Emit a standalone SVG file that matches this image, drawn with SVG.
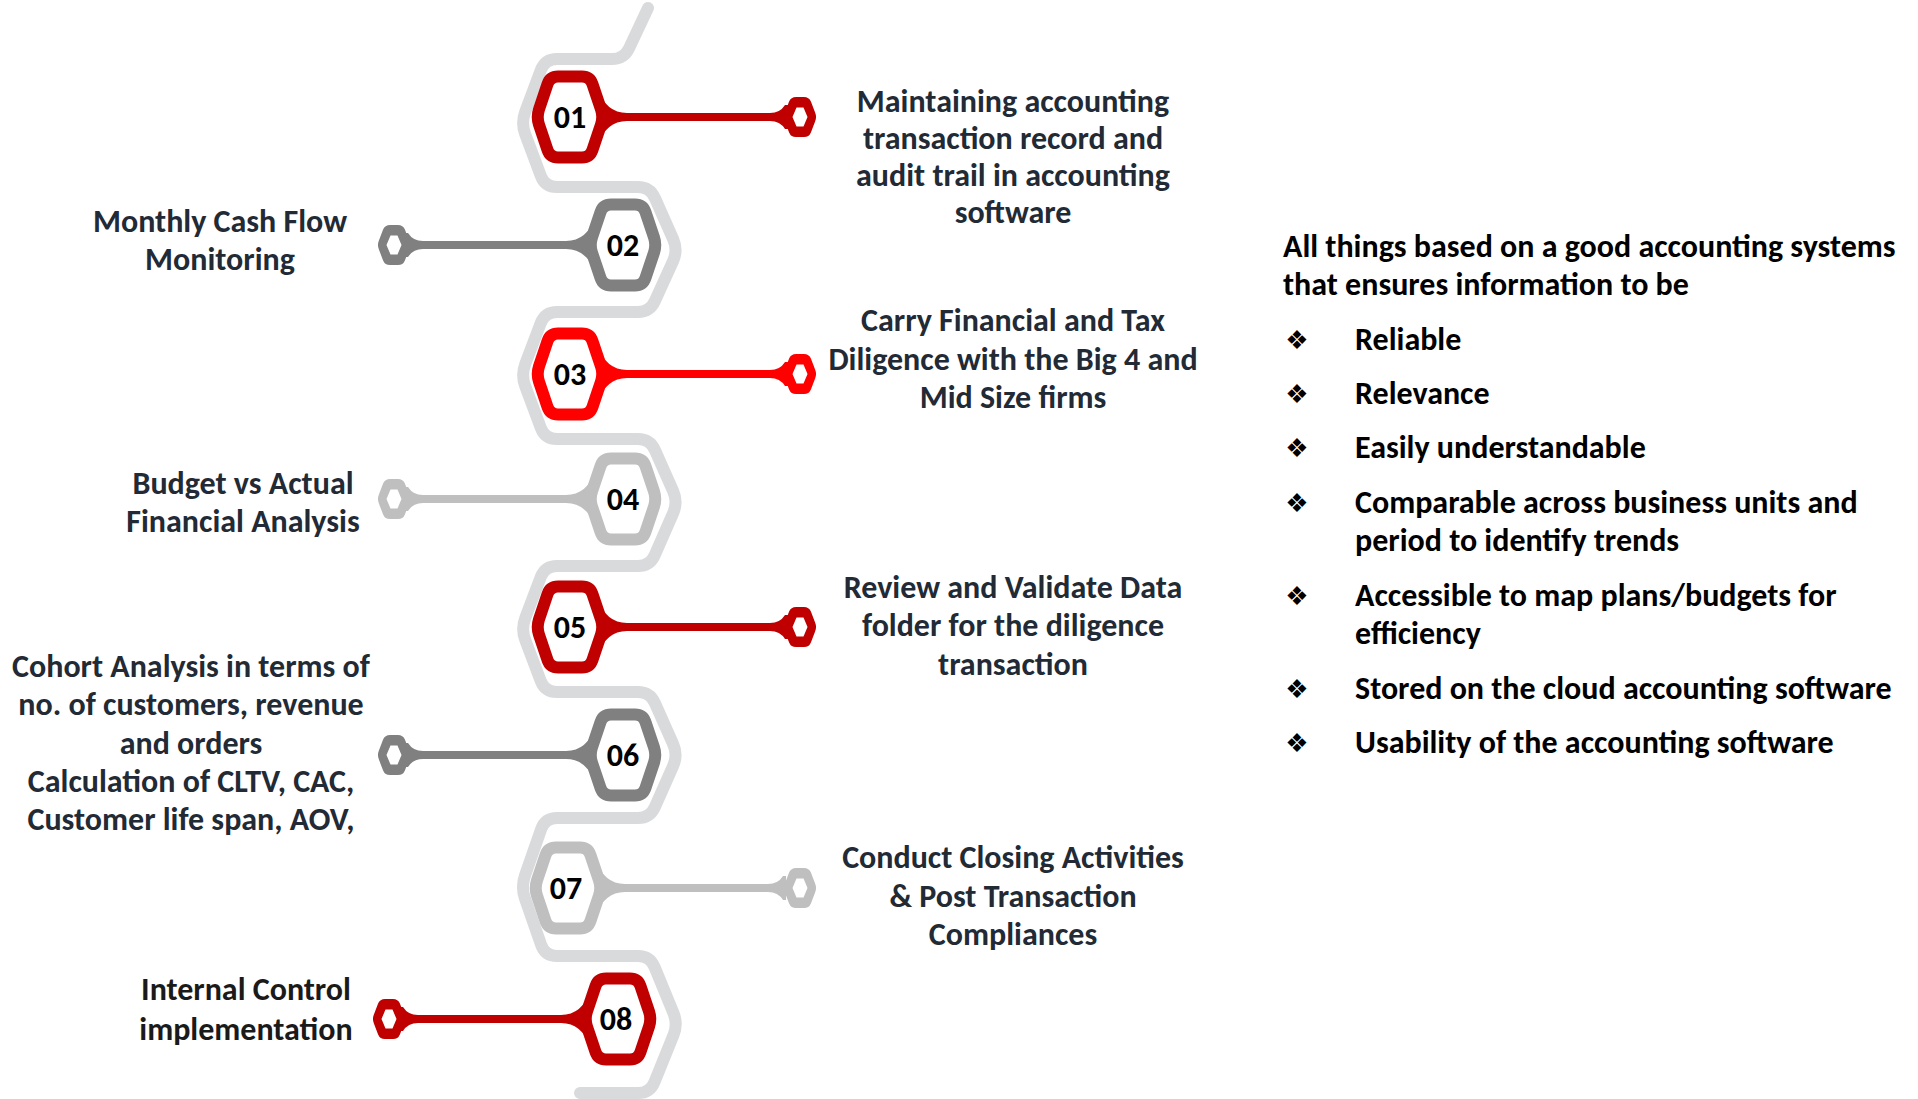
<svg xmlns="http://www.w3.org/2000/svg" xmlns:xlink="http://www.w3.org/1999/xlink" width="1918" height="1099" viewBox="0 0 1918 1099">
<style>
.lbl{font-family:Carlito,Lato,"Liberation Sans",sans-serif;font-weight:700;font-size:32px;fill:#222a35;text-anchor:middle}
.num{font-family:Carlito,Lato,"Liberation Sans",sans-serif;font-weight:700;font-size:32px;fill:#000;text-anchor:middle}
.rt{font-family:Carlito,Lato,"Liberation Sans",sans-serif;font-weight:700;font-size:32px;fill:#000}
.bul{font-family:"DejaVu Sans",sans-serif;font-size:26px;fill:#000;text-anchor:middle}
.hex{fill:#fff;stroke-width:12}
.snake{fill:none;stroke:#d9dadc;stroke-width:12;stroke-linecap:round;stroke-linejoin:round}
</style>
<defs>
<path id="hex" d="M -12,-40.5 L 12,-40.5 Q 20,-40.5 22.5,-32.9 L 31,-7.6 Q 33.5,0 31,7.6 L 22.5,32.9 Q 20,40.5 12,40.5 L -12,40.5 Q -20,40.5 -22.5,32.9 L -31,7.6 Q -33.5,0 -31,-7.6 L -22.5,-32.9 Q -20,-40.5 -12,-40.5 Z"/>
<path id="stem" d="M 27,-29 Q 36,-4 57,-4 L 200,-4 Q 210,-4 215,-12 L 218,-12 L 218,12 L 215,12 Q 210,4 200,4 L 57,4 Q 36,4 27,29 L 33.5,0 Z"/>
<path id="pin" fill-rule="evenodd" d="M -4,-20 L 4,-20 Q 9,-20 10.9,-15.4 L 15.1,-4.6 Q 17,0 15.1,4.6 L 10.9,15.4 Q 9,20 4,20 L -4,20 Q -9,20 -10.9,15.4 L -15.1,4.6 Q -17,0 -15.1,-4.6 L -10.9,-15.4 Q -9,-20 -4,-20 Z M -3.5,-9.5 L 3.5,-9.5 L 7.5,0 L 3.5,9.5 L -3.5,9.5 L -7.5,0 Z"/>
</defs>
<rect width="1918" height="1099" fill="#fff"/>
<g id="connectors">
<path class="snake" d="M 648,8 L 629.1,48.2 Q 624,59 612,59 L 557,59 Q 545,59 540.8,70.2 L 525.2,111.8 Q 521,123 525.2,134.2 L 540.8,175.8 Q 545,187 557,187 L 638,187 Q 650,187 654.9,198 L 673.1,239 Q 678,250 673.1,261 L 654.9,301.1 Q 650,312 638,312 L 557,312 Q 545,312 540.7,323.2 L 525.3,363.8 Q 521,375 525.2,386.2 L 540.8,427.8 Q 545,439 557,439 L 638,439 Q 650,439 654.9,450 L 673.1,491 Q 678,502 673.2,513 L 654.8,555 Q 650,566 638,566 L 557,566 Q 545,566 540.7,577.2 L 525.3,617.8 Q 521,629 525.3,640.2 L 540.7,680.8 Q 545,692 557,692 L 638,692 Q 650,692 654.9,703 L 673.1,744 Q 678,755 673.1,766 L 654.9,807 Q 650,818 638,818 L 557,818 Q 545,818 541.1,829.3 L 524.9,875.7 Q 521,887 524.9,898.3 L 541.1,944.7 Q 545,956 557,956 L 638,956 Q 650,956 654.6,967.1 L 673.4,1012.9 Q 678,1024 673.5,1035.1 L 654.5,1081.9 Q 650,1093 638,1093 L 580,1093"/>
</g>
<g id="node01">
<use xlink:href="#stem" href="#stem" transform="translate(570,117)" fill="#c00000"/>
<use xlink:href="#pin" href="#pin" x="800" y="117" fill="#c00000"/>
<use xlink:href="#hex" href="#hex" class="hex" x="570" y="117" stroke="#c00000"/>
<text class="num" x="570" y="128">01</text>
<text class="lbl"><tspan x="1013" y="112">Maintaining accounting</tspan><tspan x="1013" y="149">transaction record and</tspan><tspan x="1013" y="186">audit trail in accounting</tspan><tspan x="1013" y="223">software</tspan></text>
</g>
<g id="node02">
<use xlink:href="#stem" href="#stem" transform="translate(623,245) scale(-1,1)" fill="#808080"/>
<use xlink:href="#pin" href="#pin" x="394" y="245" fill="#808080"/>
<use xlink:href="#hex" href="#hex" class="hex" x="623" y="245" stroke="#808080"/>
<text class="num" x="623" y="256">02</text>
<text class="lbl"><tspan x="220" y="232">Monthly Cash Flow</tspan><tspan x="220" y="270">Monitoring</tspan></text>
</g>
<g id="node03">
<use xlink:href="#stem" href="#stem" transform="translate(570,374)" fill="#ff0000"/>
<use xlink:href="#pin" href="#pin" x="800" y="374" fill="#ff0000"/>
<use xlink:href="#hex" href="#hex" class="hex" x="570" y="374" stroke="#ff0000"/>
<text class="num" x="570" y="385">03</text>
<text class="lbl"><tspan x="1013" y="331">Carry Financial and Tax</tspan><tspan x="1013" y="370">Diligence with the Big 4 and</tspan><tspan x="1013" y="408">Mid Size firms</tspan></text>
</g>
<g id="node04">
<use xlink:href="#stem" href="#stem" transform="translate(623,499) scale(-1,1)" fill="#bfbfbf"/>
<use xlink:href="#pin" href="#pin" x="394" y="499" fill="#bfbfbf"/>
<use xlink:href="#hex" href="#hex" class="hex" x="623" y="499" stroke="#bfbfbf"/>
<text class="num" x="623" y="510">04</text>
<text class="lbl"><tspan x="243" y="494">Budget vs Actual</tspan><tspan x="243" y="532">Financial Analysis</tspan></text>
</g>
<g id="node05">
<use xlink:href="#stem" href="#stem" transform="translate(570,627)" fill="#c00000"/>
<use xlink:href="#pin" href="#pin" x="800" y="627" fill="#c00000"/>
<use xlink:href="#hex" href="#hex" class="hex" x="570" y="627" stroke="#c00000"/>
<text class="num" x="570" y="638">05</text>
<text class="lbl"><tspan x="1013" y="598">Review and Validate Data</tspan><tspan x="1013" y="636">folder for the diligence</tspan><tspan x="1013" y="675">transaction</tspan></text>
</g>
<g id="node06">
<use xlink:href="#stem" href="#stem" transform="translate(623,755) scale(-1,1)" fill="#808080"/>
<use xlink:href="#pin" href="#pin" x="394" y="755" fill="#808080"/>
<use xlink:href="#hex" href="#hex" class="hex" x="623" y="755" stroke="#808080"/>
<text class="num" x="623" y="766">06</text>
<text class="lbl"><tspan x="191" y="677">Cohort Analysis in terms of</tspan><tspan x="191" y="715">no. of customers, revenue</tspan><tspan x="191" y="754">and orders</tspan><tspan x="191" y="792">Calculation of CLTV, CAC,</tspan><tspan x="191" y="830">Customer life span, AOV,</tspan></text>
</g>
<g id="node07">
<use xlink:href="#stem" href="#stem" transform="translate(568,888)" fill="#bfbfbf"/>
<use xlink:href="#pin" href="#pin" x="800" y="888" fill="#bfbfbf"/>
<use xlink:href="#hex" href="#hex" class="hex" x="568" y="888" stroke="#bfbfbf"/>
<text class="num" x="566" y="899">07</text>
<text class="lbl"><tspan x="1013" y="868">Conduct Closing Activities</tspan><tspan x="1013" y="907">&amp; Post Transaction</tspan><tspan x="1013" y="945">Compliances</tspan></text>
</g>
<g id="node08">
<use xlink:href="#stem" href="#stem" transform="translate(618,1019) scale(-1,1)" fill="#c00000"/>
<use xlink:href="#pin" href="#pin" x="389" y="1019" fill="#c00000"/>
<use xlink:href="#hex" href="#hex" class="hex" x="618" y="1019" stroke="#c00000"/>
<text class="num" x="616" y="1030">08</text>
<text class="lbl" style="fill:#1a1a1a"><tspan x="246" y="1000">Internal Control</tspan><tspan x="246" y="1040">implementation</tspan></text>
</g>
<g id="summary">
<text class="rt"><tspan x="1283" y="257">All things based on a good accounting systems</tspan><tspan x="1283" y="295">that ensures information to be</tspan></text>
<text class="bul"><tspan x="1297" y="349">❖</tspan><tspan x="1297" y="403">❖</tspan><tspan x="1297" y="457">❖</tspan><tspan x="1297" y="512">❖</tspan><tspan x="1297" y="605">❖</tspan><tspan x="1297" y="698">❖</tspan><tspan x="1297" y="752">❖</tspan></text>
<text class="rt"><tspan x="1355" y="350">Reliable</tspan><tspan x="1355" y="404">Relevance</tspan><tspan x="1355" y="458">Easily understandable</tspan><tspan x="1355" y="513">Comparable across business units and</tspan><tspan x="1355" y="551">period to identify trends</tspan><tspan x="1355" y="606">Accessible to map plans/budgets for</tspan><tspan x="1355" y="644">efficiency</tspan><tspan x="1355" y="699">Stored on the cloud accounting software</tspan><tspan x="1355" y="753">Usability of the accounting software</tspan></text>
</g>
</svg>
